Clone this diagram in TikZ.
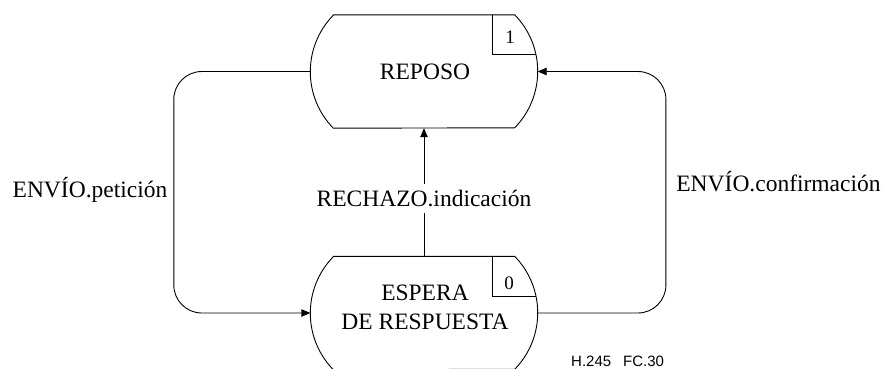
\documentclass[tikz,border=0pt]{standalone}
\usepackage{fontspec}
\setmainfont{Liberation Serif}
\setsansfont{Liberation Sans}
\usetikzlibrary{arrows.meta,calc}
\newcommand\drawstate[1]{%
  \draw[outline] ($(#1.north west)+(23,0)$) -- ($(#1.north east)+(-23,0)$)
    arc[start angle=44.3,end angle=-44.3,radius=80.9pt]
    -- ($(#1.south west)+(23,0)$)
    arc[start angle=224.3,end angle=135.7,radius=80.9pt] -- cycle;
  \draw[outline] ($(#1.north east)+(-45.5,0)$) |- ($(#1.north east)+(-1.7,-40)$);
}
\begin{document}
\begin{tikzpicture}[x=1pt,y=1pt,
  outline/.style={line width=0.9pt},
  state/.style={rectangle,minimum width=227pt,minimum height=113pt,inner sep=0pt},
  conn/.style={line width=0.9pt,-{Triangle[length=9pt,width=7.5pt]}},
  lbl/.style={font=\fontsize{23.5}{28.3}\selectfont,inner sep=0pt,anchor=base},
  num/.style={font=\fontsize{19}{21}\selectfont,inner sep=0pt}
]
\useasboundingbox (0,0) rectangle (885,368);
\node[state] (r) at (424,296.5) {};
\node[state] (e) at (424,55) {};
\drawstate{r}
\drawstate{e}
\node[lbl] (rt) at (425,288.3) {REPOSO};
\node[lbl,align=center,anchor=base] (et) at (425,39) {ESPERA\\DE RESPUESTA};
\node[num] (rn) at (510,330.5) {1};
\node[num] (en) at (509,85) {0};
% connectors
\draw[conn,rounded corners=28pt] (r.west) -- ++(-136.5,0) |- (e.west);
\draw[conn,rounded corners=28pt] (e.east) -- ++(128.2,0) |- (r.east);
\draw[conn] (e.north) -- (r.south)
  node[lbl,pos=0.45,fill=white,inner ysep=6pt,inner xsep=2pt,anchor=center] (rech) {RECHAZO.indicación};
\node[lbl] (pet) at (90,171) {ENVÍO.petición};
\node[lbl] (conf) at (778.5,177) {ENVÍO.confirmación};
\node[font=\sffamily\fontsize{15}{17}\selectfont,inner sep=0pt,anchor=base west] (fig) at (571,2) {H.245\hspace{12pt}FC.30};
\end{tikzpicture}
\end{document}
